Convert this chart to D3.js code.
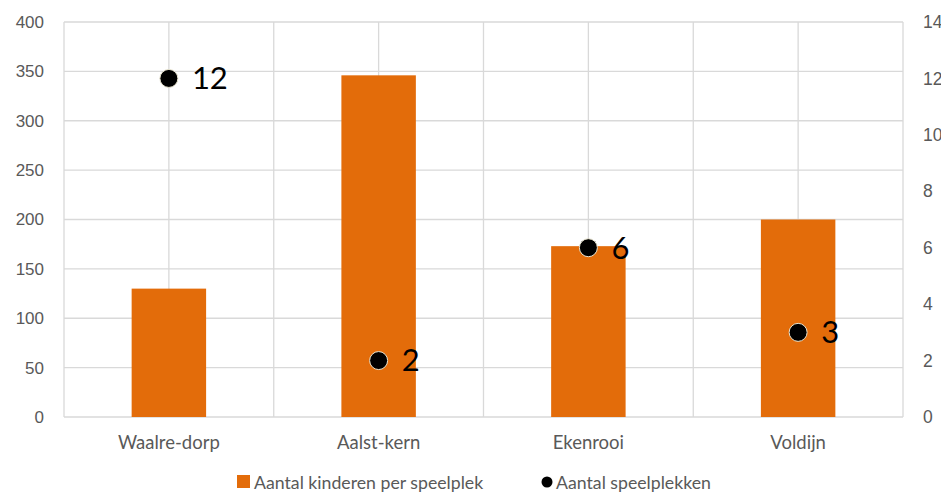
<!DOCTYPE html>
<html>
<head>
<meta charset="utf-8">
<script src="https://cdn.jsdelivr.net/npm/d3@7"></script>
<style>
  body { margin: 0; background: #fff; overflow: hidden; }
  svg { font-family: Lato, "Open Sans", sans-serif; display: block; }
</style>
</head>
<body>
<div id="chart"></div>
<script>
// Data
const categories = ['Waalre-dorp', 'Aalst-kern', 'Ekenrooi', 'Voldijn'];
const kinderenPerSpeelplek = [130, 346, 173, 200];
const aantalSpeelplekken = [12, 2, 6, 3];
const leftTicks = [0, 50, 100, 150, 200, 250, 300, 350, 400];
const rightTicks = [0, 2, 4, 6, 8, 10, 12, 14];

const width = 941;
const height = 499;
const margin = { top: 22, right: 38, bottom: 82, left: 64 };
const gridColor = '#d9d9d9';
const barColor = '#e36c0a';
const tickColor = '#595959';

const svg = d3.select('#chart')
    .append('svg')
    .attr('width', width)
    .attr('height', height);

const x = d3.scaleBand()
    .domain(categories)
    .range([margin.left, width - margin.right])
    .paddingInner(0)
    .paddingOuter(0);

const yLeft = d3.scaleLinear()
    .domain([0, 400])
    .range([height - margin.bottom, margin.top]);

const yRight = d3.scaleLinear()
    .domain([0, 14])
    .range([height - margin.bottom, margin.top]);

// Horizontal gridlines
svg.append('g')
    .selectAll('line')
    .data(leftTicks)
    .join('line')
    .attr('x1', margin.left)
    .attr('x2', width - margin.right)
    .attr('y1', d => yLeft(d))
    .attr('y2', d => yLeft(d))
    .attr('stroke', gridColor)
    .attr('stroke-width', 1.3);

// Vertical gridlines at band edges and centres
const vLines = [];
categories.forEach(c => {
    vLines.push(x(c));
    vLines.push(x(c) + x.bandwidth() / 2);
});
vLines.push(width - margin.right);

svg.append('g')
    .selectAll('line')
    .data(vLines)
    .join('line')
    .attr('x1', d => d)
    .attr('x2', d => d)
    .attr('y1', margin.top)
    .attr('y2', height - margin.bottom)
    .attr('stroke', gridColor)
    .attr('stroke-width', 1.3);

// Bars
const barWidth = x.bandwidth() * 0.355;
svg.append('g')
    .selectAll('rect')
    .data(categories)
    .join('rect')
    .attr('x', d => x(d) + x.bandwidth() / 2 - barWidth / 2)
    .attr('width', barWidth)
    .attr('y', (d, i) => yLeft(kinderenPerSpeelplek[i]))
    .attr('height', (d, i) => yLeft(0) - yLeft(kinderenPerSpeelplek[i]))
    .attr('fill', barColor);

// Left axis
const leftAxis = svg.append('g')
    .attr('transform', `translate(${margin.left - 20},0)`)
    .call(d3.axisLeft(yLeft).tickValues(leftTicks).tickSize(0).tickPadding(0));
leftAxis.select('.domain').remove();
leftAxis.selectAll('text')
    .attr('fill', tickColor)
    .attr('font-size', 17);

// Right axis (cut off by the window edge, as in the original)
const rightAxis = svg.append('g')
    .attr('transform', `translate(${width - margin.right + 20},0)`)
    .call(d3.axisRight(yRight).tickValues(rightTicks).tickSize(0).tickPadding(0));
rightAxis.select('.domain').remove();
rightAxis.selectAll('text')
    .attr('fill', tickColor)
    .attr('font-size', 17.5);

// Category axis labels
svg.append('g')
    .selectAll('text')
    .data(categories)
    .join('text')
    .attr('x', d => x(d) + x.bandwidth() / 2)
    .attr('y', height - margin.bottom + 32)
    .attr('text-anchor', 'middle')
    .attr('fill', tickColor)
    .attr('font-size', 18.5)
    .text(d => d);

// Dots for number of playgrounds
const dots = svg.append('g');
dots.selectAll('circle')
    .data(categories)
    .join('circle')
    .attr('cx', d => x(d) + x.bandwidth() / 2)
    .attr('cy', (d, i) => yRight(aantalSpeelplekken[i]))
    .attr('r', 9)
    .attr('fill', '#000')
    .attr('stroke', '#e8e4d0')
    .attr('stroke-width', 1);

dots.selectAll('text')
    .data(categories)
    .join('text')
    .attr('x', d => x(d) + x.bandwidth() / 2 + 23)
    .attr('y', (d, i) => yRight(aantalSpeelplekken[i]))
    .attr('dy', '0.35em')
    .attr('font-size', 31)
    .attr('fill', '#000')
    .text((d, i) => aantalSpeelplekken[i]);

// Legend
const legend = svg.append('g').attr('transform', `translate(0, ${height - 10})`);
legend.append('rect')
    .attr('x', 237)
    .attr('y', -14)
    .attr('width', 13)
    .attr('height', 13)
    .attr('fill', barColor);
legend.append('text')
    .attr('x', 254)
    .attr('y', 0)
    .attr('font-size', 17.7)
    .attr('fill', tickColor)
    .text('Aantal kinderen per speelplek');
legend.append('circle')
    .attr('cx', 547)
    .attr('cy', -7)
    .attr('r', 5.5)
    .attr('fill', '#000');
legend.append('text')
    .attr('x', 556)
    .attr('y', 0)
    .attr('font-size', 17.7)
    .attr('fill', tickColor)
    .text('Aantal speelplekken');
</script>
</body>
</html>
